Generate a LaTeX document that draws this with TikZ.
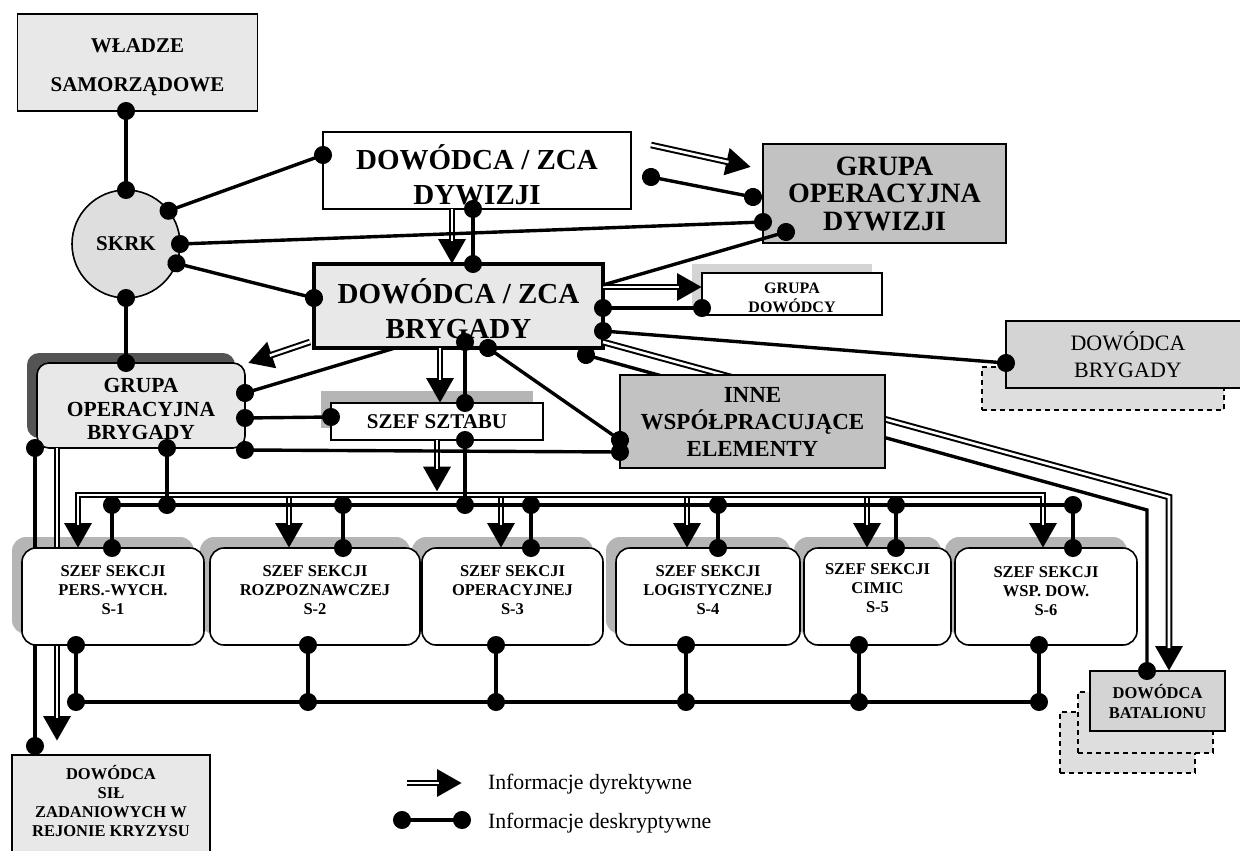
\documentclass[tikz,border=0pt]{standalone}
\usepackage{fontspec}
\setmainfont{Liberation Serif}
\usetikzlibrary{arrows.meta}

\definecolor{paleg}{gray}{0.91}
\definecolor{softg}{gray}{0.87}
\definecolor{lightg}{gray}{0.83}
\definecolor{midg}{gray}{0.76}
\definecolor{hatchg}{gray}{0.71}
\definecolor{darkg}{gray}{0.33}

\tikzset{
  every node/.style={inner sep=0pt, outer sep=0pt},
  boxline/.style={draw=black, line width=1.6pt, align=center},
  sbox/.style={boxline, fill=white, rounded corners=14pt, minimum height=97pt},
  sshade/.style={fill=hatchg, rounded corners=14pt, minimum height=97pt},
  dashbox/.style={draw=black, line width=1.4pt, dash pattern=on 5pt off 4pt, fill=softg},
  label text/.style={align=center, font=\fontsize{#1}{#1}\selectfont\bfseries},
  stext/.style={align=center, font=\fontsize{16.5}{19}\selectfont\bfseries},
  desc/.style={line width=3.4pt},
  dotend/.style={desc, -{Circle[length=18pt,width=18pt]}, shorten >=-9pt},
  dotboth/.style={desc, {Circle[length=18pt,width=18pt]}-{Circle[length=18pt,width=18pt]}, shorten <=-9pt, shorten >=-9pt},
  dir/.style={line width=6.6pt, -{Triangle[length=25pt,width=26pt]},
    postaction={draw=white, line width=2.6pt, -, shorten >=23pt}},
  dirtwo/.style={line width=6.6pt, {Triangle[length=25pt,width=26pt]}-{Triangle[length=25pt,width=26pt]},
    postaction={draw=white, line width=2.6pt, -, shorten >=23pt, shorten <=23pt}},
}

\begin{document}
\begin{tikzpicture}[x=1pt,y=-1pt]
\useasboundingbox (0,0) rectangle (1240,851);
\fill[white] (0,0) rectangle (1240,851);

% ---- shadows and stacked copies behind the boxes
\node[fill=darkg, rounded corners=12pt, minimum width=208pt, minimum height=85pt] (gobsh) at (131,395.5) {};
\node[fill=hatchg, minimum width=212pt, minimum height=37pt] (sssh) at (427,409.5) {};
\node[fill=lightg, minimum width=180pt, minimum height=42pt] (gdsh) at (782,285) {};
\node[dashbox, minimum width=242pt, minimum height=43pt] (dbrsh) at (1103,388.5) {};
\node[dashbox, minimum width=135pt, minimum height=61pt] (batsh2) at (1127.5,742.5) {};
\node[dashbox, minimum width=135pt, minimum height=61pt] (batsh1) at (1145.5,722.5) {};
\foreach \n/\x/\w in {1/113/182, 2/315/210, 3/512.5/181, 4/708/184, 5/877.5/147, 6/1046/182}
  \node[sshade, minimum width=\w pt] (sh\n) at (\x-10,585.5) {};

% ---- main boxes
\node[boxline, fill=paleg, minimum width=240pt, minimum height=97pt] (wl) at (137.5,62.5) {};
\node[align=center, font=\fontsize{21}{39}\selectfont\bfseries] (wlt) at (137.5,67.5) {WŁADZE\\SAMORZĄDOWE};
\node[boxline, circle, fill=softg, minimum size=108pt, font=\fontsize{21}{25}\selectfont\bfseries] (skrk) at (126,244) {SKRK};
\node[boxline, fill=white, minimum width=308pt, minimum height=77pt] (dyw) at (477,170.5) {};
\node[align=center, font=\fontsize{29}{35}\selectfont\bfseries] (dywt) at (477,174.5) {DOWÓDCA / ZCA\\DYWIZJI};
\node[boxline, fill=midg, minimum width=243pt, minimum height=99pt, font=\fontsize{28}{27.5}\selectfont\bfseries] (god) at (884.5,193.5) {GRUPA\\OPERACYJNA\\DYWIZJI};
\node[boxline, line width=4pt, fill=paleg, minimum width=289pt, minimum height=84pt] (bry) at (458.5,306) {};
\node[align=center, font=\fontsize{29}{35}\selectfont\bfseries] (bryt) at (458.5,308.5) {DOWÓDCA / ZCA\\BRYGADY};
\node[boxline, fill=white, minimum width=180pt, minimum height=42pt] (gd) at (792,294) {};
\node[align=center, font=\fontsize{16}{19}\selectfont\bfseries] (gdt) at (792,298) {GRUPA\\DOWÓDCY};
\node[boxline, fill=lightg, minimum width=244pt, minimum height=67pt, font=\fontsize{22}{27}\selectfont] (dbr) at (1128,354.5) {DOWÓDCA\\BRYGADY};
\node[boxline, fill=paleg, rounded corners=12pt, minimum width=208pt, minimum height=85pt] (gob) at (141,405.5) {};
\node[align=center, font=\fontsize{21.5}{23.5}\selectfont\bfseries] (gobt) at (141,409) {GRUPA\\OPERACYJNA\\BRYGADY};
\node[boxline, fill=white, minimum width=212pt, minimum height=37pt, font=\fontsize{21}{25}\selectfont\bfseries] (ss) at (437,421.5) {SZEF SZTABU};
\node[boxline, fill=paleg, minimum width=198pt, minimum height=110pt] (sil) at (111,810) {};
\node[align=center, font=\fontsize{16.5}{19}\selectfont\bfseries] (silt) at (111,801) {DOWÓDCA\\SIŁ\\ZADANIOWYCH W\\REJONIE KRYZYSU};
\node[boxline, fill=lightg, minimum width=135pt, minimum height=60pt, font=\fontsize{16.5}{20}\selectfont\bfseries] (bat) at (1157.5,701) {DOWÓDCA\\BATALIONU};

% ---- the two links that run behind section S-1
\coordinate (l21a) at ([xshift=-106pt]gob.south);
\coordinate (l21b) at (l21a |- sil.north);
\draw[dotboth] (l21a) -- ([yshift=9pt]l21b);
\coordinate (lha) at ([xshift=-84pt]gob.south);
\coordinate (lhb) at (lha |- sil.north);
\draw[dir] (lha) -- ([yshift=14pt]lhb);

% ---- staff sections
\foreach \n/\x/\w in {1/113/182, 2/315/210, 3/512.5/181, 4/708/184, 5/877.5/147, 6/1046/182}
  \node[sbox, minimum width=\w pt] (s\n) at (\x,596.5) {};
\node[stext] (s1t) at (113,590.4) {SZEF SEKCJI\\PERS.-WYCH.\\S-1};
\node[stext] (s2t) at (315,590.4) {SZEF SEKCJI\\ROZPOZNAWCZEJ\\S-2};
\node[stext] (s3t) at (512.5,590.4) {SZEF SEKCJI\\OPERACYJNEJ\\S-3};
\node[stext] (s4t) at (708,590.4) {SZEF SEKCJI\\LOGISTYCZNEJ\\S-4};
\node[stext] (s5t) at (877.5,588) {SZEF SEKCJI\\CIMIC\\S-5};
\node[stext] (s6t) at (1046,591) {SZEF SEKCJI\\WSP. DOW.\\S-6};

% ---- links to the battalion commander, passing behind the cooperating elements
\coordinate (c11) at (1147,510);
\draw[dotboth] ([xshift=-17pt,yshift=-7pt]bry.south east) -- (c11) -- (c11 |- bat.north);
\coordinate (cI) at (1169,497);
\draw[dir] ([yshift=-36pt]bry.east) -- (cI) -- (cI |- bat.north);

\node[boxline, fill=midg, minimum width=265pt, minimum height=93pt, font=\fontsize{23}{27}\selectfont\bfseries] (inne) at (752.5,421.5) {INNE\\WSPÓŁPRACUJĄCE\\ELEMENTY};

% ---- directive links
\coordinate (fa1) at (651,145);
\coordinate (fa2) at (751,167);
\draw[dir] (fa1) -- (fa2);
\draw[dir] ([xshift=-25pt]dyw.south) -- ([xshift=-6.5pt]bry.north);
\draw[dir] ([yshift=19pt]bry.east) -- ([yshift=7pt]gd.west);
\draw[dir] ([xshift=-4pt,yshift=6pt]bry.south west) -- ([xshift=3pt]gob.north east);
\draw[dir] ([xshift=-18.5pt]bry.south) -- ([xshift=3pt]ss.north);

\coordinate (obus) at (0,491.7);
\coordinate (mbus) at (0,495);
\coordinate (ibus) at (0,498.3);
\draw[dir] (ss.south) -- (ss.south |- obus);
\foreach \n/\dx in {1/-35, 2/-26, 3/-11.5, 4/-21, 5/-10.5, 6/-3}
  \coordinate (dtop\n) at ([xshift=\dx pt]s\n.north);
\draw[dirtwo] (dtop1) -- (dtop1 |- mbus) -- (dtop6 |- mbus) -- (dtop6);
\foreach \n in {2,3,4,5}
  \draw[dir] (dtop\n |- ibus) -- (dtop\n);

% ---- descriptive links
\draw[dotboth] (skrk.north |- wl.south) -- (skrk.north);
\draw[dotboth] (skrk.38) -- ([yshift=15.5pt]dyw.west);
\draw[dotboth] (skrk.east) -- ([yshift=-28.5pt]god.west);
\draw[dotboth] (skrk.-21) -- ([yshift=8pt]bry.west);
\draw[dotboth] (skrk.south) -- (skrk.south |- gob.north);
\draw[dotboth] ([xshift=-4pt]dyw.south) -- ([xshift=14.5pt]bry.north);
\coordinate (fl1) at (651,177);
\coordinate (fl2) at (753,197);
\draw[dotboth] (fl1) -- (fl2);
\draw[dotend] ([yshift=21pt]bry.east) -- ([xshift=23pt,yshift=11pt]god.south west);
\draw[dotboth] ([yshift=-2pt]bry.east) -- ([yshift=-14pt]gd.west);
\draw[dotboth] ([yshift=-25pt]bry.east) -- ([yshift=-8.5pt]dbr.west);
\draw[dotend] ([xshift=-63.5pt]bry.south) -- ([yshift=12.5pt]gob.east);
\draw[dotboth] ([xshift=6.5pt,yshift=6pt]bry.south) -- ([xshift=28pt]ss.north);
\draw[dotboth] ([xshift=29.5pt]bry.south) -- ([yshift=-18.5pt]inne.west);
\draw[dotboth] ([yshift=-12.5pt]gob.east) -- ([yshift=4.5pt]ss.west);
\draw[dotboth] ([yshift=-2pt]gob.south east) -- ([yshift=-30.5pt]inne.west);

% upper information bus
\coordinate (dbusL) at (110,505);
\coordinate (dbusR) at (1073,505);
\draw[desc] (dbusL) -- (dbusR);
\coordinate (sst) at ([xshift=28pt]ss.south);
\draw[dotboth] (sst) -- (sst |- dbusL);
\coordinate (gbt) at ([xshift=26pt]gob.south);
\draw[dotboth] (gbt) -- (gbt |- dbusL);
\foreach \n/\dx in {1/-1, 2/28, 3/18.5, 4/10, 5/18.5, 6/27}{
  \coordinate (utap\n) at ([xshift=\dx pt]s\n.north);
  \draw[dotboth] (utap\n |- dbusL) -- (utap\n);
}

% lower information bus
\coordinate (bbusL) at (76,702);
\coordinate (bbusR) at (1039,702);
\draw[desc] (bbusL) -- (bbusR);
\foreach \n/\dx in {1/-37, 2/-7, 3/-16.5, 4/-22, 5/-18.5, 6/-7}{
  \coordinate (ltap\n) at ([xshift=\dx pt]s\n.south);
  \draw[dotboth] (ltap\n) -- (ltap\n |- bbusL);
}

% ---- legend
\coordinate (leg1a) at (407,783);
\coordinate (leg1b) at (462,783);
\draw[dir] (leg1a) -- (leg1b);
\node[anchor=base west, font=\fontsize{21.8}{25}\selectfont] (leg1t) at (488,789) {Informacje dyrektywne};
\coordinate (leg2a) at (402,820);
\coordinate (leg2b) at (462,820);
\draw[dotboth] (leg2a) -- (leg2b);
\node[anchor=base west, font=\fontsize{21.8}{25}\selectfont] (leg2t) at (488,828) {Informacje deskryptywne};
\end{tikzpicture}
\end{document}
